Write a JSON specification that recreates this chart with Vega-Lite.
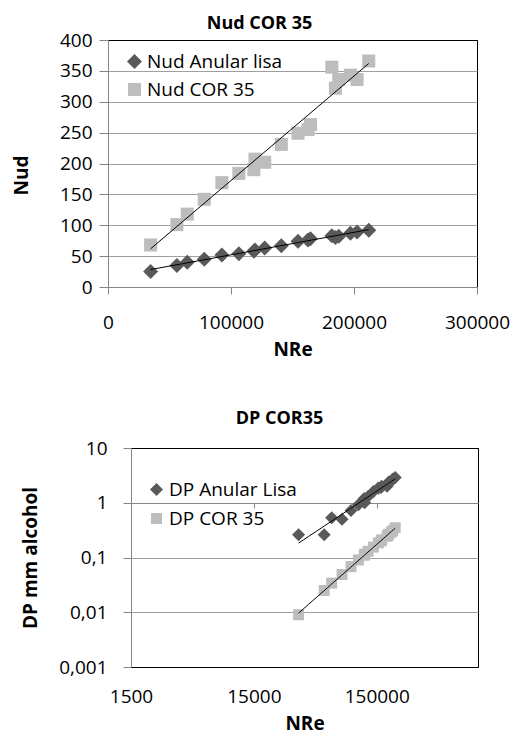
{
  "$schema": "https://vega.github.io/schema/vega-lite/v6.json",
  "background": "white",
  "padding": {"left": 11, "top": 14, "right": 5, "bottom": 0},
  "spacing": 49,
  "config": {
    "font": "Open Sans",
    "view": {"stroke": "black", "strokeWidth": 1},
    "axis": {"labelColor": "black", "titleColor": "black", "labelFont": "Open Sans", "titleFont": "Open Sans", "domainColor": "#868686", "tickColor": "#868686", "labelFlush": false, "labelOverlap": false}
  },
  "resolve": {"scale": {"color": "independent", "shape": "independent", "size": "independent"}, "legend": {"color": "independent", "shape": "independent"}},
  "vconcat": [
    {
      "width": 369,
      "height": 247,
      "title": {"text": "Nud COR 35", "fontSize": 18, "fontWeight": "bold", "font": "Open Sans", "color": "black", "anchor": "middle", "frame": "group", "baseline": "alphabetic", "offset": -16, "dx": -33},
      "data": {"values": [
        {"series": "Nud Anular lisa", "NRe": 34657, "Nud": 25},
        {"series": "Nud Anular lisa", "NRe": 56000, "Nud": 35},
        {"series": "Nud Anular lisa", "NRe": 64440, "Nud": 40},
        {"series": "Nud Anular lisa", "NRe": 78250, "Nud": 45},
        {"series": "Nud Anular lisa", "NRe": 92600, "Nud": 52},
        {"series": "Nud Anular lisa", "NRe": 106400, "Nud": 54},
        {"series": "Nud Anular lisa", "NRe": 118600, "Nud": 58},
        {"series": "Nud Anular lisa", "NRe": 119500, "Nud": 60},
        {"series": "Nud Anular lisa", "NRe": 127400, "Nud": 63},
        {"series": "Nud Anular lisa", "NRe": 140900, "Nud": 67},
        {"series": "Nud Anular lisa", "NRe": 154500, "Nud": 74},
        {"series": "Nud Anular lisa", "NRe": 162600, "Nud": 76},
        {"series": "Nud Anular lisa", "NRe": 164600, "Nud": 78},
        {"series": "Nud Anular lisa", "NRe": 182000, "Nud": 83},
        {"series": "Nud Anular lisa", "NRe": 184900, "Nud": 80},
        {"series": "Nud Anular lisa", "NRe": 187600, "Nud": 82},
        {"series": "Nud Anular lisa", "NRe": 197100, "Nud": 87},
        {"series": "Nud Anular lisa", "NRe": 202500, "Nud": 89},
        {"series": "Nud Anular lisa", "NRe": 212000, "Nud": 92},
        {"series": "Nud COR 35", "NRe": 34657, "Nud": 68},
        {"series": "Nud COR 35", "NRe": 56000, "Nud": 101},
        {"series": "Nud COR 35", "NRe": 64440, "Nud": 118},
        {"series": "Nud COR 35", "NRe": 78250, "Nud": 142},
        {"series": "Nud COR 35", "NRe": 92600, "Nud": 169},
        {"series": "Nud COR 35", "NRe": 106400, "Nud": 184},
        {"series": "Nud COR 35", "NRe": 118600, "Nud": 190},
        {"series": "Nud COR 35", "NRe": 119500, "Nud": 207},
        {"series": "Nud COR 35", "NRe": 127400, "Nud": 202},
        {"series": "Nud COR 35", "NRe": 140900, "Nud": 231},
        {"series": "Nud COR 35", "NRe": 154500, "Nud": 249},
        {"series": "Nud COR 35", "NRe": 162600, "Nud": 255},
        {"series": "Nud COR 35", "NRe": 164600, "Nud": 263},
        {"series": "Nud COR 35", "NRe": 182000, "Nud": 356},
        {"series": "Nud COR 35", "NRe": 184900, "Nud": 322},
        {"series": "Nud COR 35", "NRe": 187600, "Nud": 336},
        {"series": "Nud COR 35", "NRe": 197100, "Nud": 343},
        {"series": "Nud COR 35", "NRe": 202500, "Nud": 336},
        {"series": "Nud COR 35", "NRe": 212000, "Nud": 366}
      ]},
      "encoding": {
        "x": {"field": "NRe", "type": "quantitative", "scale": {"domain": [0, 300000], "nice": false, "zero": false},
          "axis": {"values": [0, 100000, 200000, 300000], "format": "d", "title": "NRe", "titleFontSize": 19, "titleFontWeight": "bold", "titlePadding": 8, "labelFontSize": 19, "labelPadding": 19, "tickSize": 7, "grid": false}},
        "y": {"field": "Nud", "type": "quantitative", "scale": {"domain": [0, 400], "nice": false},
          "axis": {"values": [0, 50, 100, 150, 200, 250, 300, 350, 400], "tickCount": 9, "title": "Nud", "titleFontSize": 19, "titleFontWeight": "bold", "titlePadding": 18, "titleY": 135, "labelFontSize": 19, "labelPadding": 7, "tickSize": 9, "minExtent": 59, "maxExtent": 59, "grid": true,
            "gridColor": {"condition": {"test": "datum.value >= 400", "value": "black"}, "value": "#a0a0a0"}}}
      },
      "layer": [
        {
          "mark": {"type": "point", "filled": true, "opacity": 1, "strokeWidth": 0},
          "encoding": {
            "color": {"field": "series", "type": "nominal", "scale": {"domain": ["Nud Anular lisa", "Nud COR 35"], "range": ["#595959", "#bdbdbd"]},
              "legend": {"orient": "none", "legendX": 17, "legendY": 12, "title": null, "labelFontSize": 19, "labelFont": "Open Sans", "labelColor": "black", "symbolSize": 100, "labelOffset": 3, "rowPadding": 8, "padding": 0, "symbolStrokeWidth": 0, "symbolOpacity": 1}},
            "shape": {"field": "series", "type": "nominal", "scale": {"domain": ["Nud Anular lisa", "Nud COR 35"], "range": ["diamond", "square"]}},
            "size": {"field": "series", "type": "nominal", "scale": {"domain": ["Nud Anular lisa", "Nud COR 35"], "range": [225, 170]}, "legend": null}
          }
        },
        {
          "transform": [{"regression": "Nud", "on": "NRe", "groupby": ["series"]}],
          "mark": {"type": "line", "color": "black", "strokeWidth": 1},
          "encoding": {
            "detail": {"field": "series", "type": "nominal"}
          }
        }
      ]
    },
    {
      "spacing": 22,
      "bounds": "flush",
      "hconcat": [
        {
          "width": 1,
          "height": 219,
          "view": {"stroke": null},
          "data": {"values": [{"a": 1}]},
          "mark": {"type": "point", "opacity": 0},
          "encoding": {}
        },
        {
          "width": 347,
          "height": 219,
          "title": {"text": "DP COR35", "fontSize": 18, "fontWeight": "bold", "font": "Open Sans", "color": "black", "anchor": "middle", "frame": "group", "baseline": "alphabetic", "offset": -3, "dx": -25},
          "data": {"values": [
            {"series": "DP Anular Lisa", "NRe": 34657, "DP": 0.26},
            {"series": "DP Anular Lisa", "NRe": 56000, "DP": 0.26},
            {"series": "DP Anular Lisa", "NRe": 64440, "DP": 0.53},
            {"series": "DP Anular Lisa", "NRe": 78250, "DP": 0.5},
            {"series": "DP Anular Lisa", "NRe": 92600, "DP": 0.72},
            {"series": "DP Anular Lisa", "NRe": 106400, "DP": 0.92},
            {"series": "DP Anular Lisa", "NRe": 118600, "DP": 1.2},
            {"series": "DP Anular Lisa", "NRe": 119500, "DP": 1.0},
            {"series": "DP Anular Lisa", "NRe": 127400, "DP": 1.3},
            {"series": "DP Anular Lisa", "NRe": 140900, "DP": 1.6},
            {"series": "DP Anular Lisa", "NRe": 154500, "DP": 1.85},
            {"series": "DP Anular Lisa", "NRe": 162600, "DP": 1.9},
            {"series": "DP Anular Lisa", "NRe": 164600, "DP": 2.0},
            {"series": "DP Anular Lisa", "NRe": 182000, "DP": 2.0},
            {"series": "DP Anular Lisa", "NRe": 184900, "DP": 2.2},
            {"series": "DP Anular Lisa", "NRe": 187600, "DP": 2.4},
            {"series": "DP Anular Lisa", "NRe": 197100, "DP": 2.5},
            {"series": "DP Anular Lisa", "NRe": 202500, "DP": 2.7},
            {"series": "DP Anular Lisa", "NRe": 212000, "DP": 2.9},
            {"series": "DP COR 35", "NRe": 34657, "DP": 0.009},
            {"series": "DP COR 35", "NRe": 56000, "DP": 0.025},
            {"series": "DP COR 35", "NRe": 64440, "DP": 0.034},
            {"series": "DP COR 35", "NRe": 78250, "DP": 0.049},
            {"series": "DP COR 35", "NRe": 92600, "DP": 0.068},
            {"series": "DP COR 35", "NRe": 106400, "DP": 0.09},
            {"series": "DP COR 35", "NRe": 118600, "DP": 0.11},
            {"series": "DP COR 35", "NRe": 119500, "DP": 0.115},
            {"series": "DP COR 35", "NRe": 127400, "DP": 0.13},
            {"series": "DP COR 35", "NRe": 140900, "DP": 0.155},
            {"series": "DP COR 35", "NRe": 154500, "DP": 0.185},
            {"series": "DP COR 35", "NRe": 162600, "DP": 0.2},
            {"series": "DP COR 35", "NRe": 164600, "DP": 0.21},
            {"series": "DP COR 35", "NRe": 182000, "DP": 0.245},
            {"series": "DP COR 35", "NRe": 184900, "DP": 0.255},
            {"series": "DP COR 35", "NRe": 187600, "DP": 0.265},
            {"series": "DP COR 35", "NRe": 197100, "DP": 0.29},
            {"series": "DP COR 35", "NRe": 202500, "DP": 0.31},
            {"series": "DP COR 35", "NRe": 212000, "DP": 0.35}
          ]},
          "encoding": {
            "x": {"field": "NRe", "type": "quantitative", "scale": {"type": "log", "domain": [1500, 1000000], "nice": false},
              "axis": {"values": [1500, 15000, 150000], "format": "d", "title": "NRe", "titleFontSize": 19, "titleFontWeight": "bold", "titlePadding": 11, "labelFontSize": 19, "labelPadding": 179, "tickSize": 5, "offset": -164, "grid": false}},
            "y": {"field": "DP", "type": "quantitative", "scale": {"type": "log", "domain": [0.001, 10], "nice": false},
              "axis": {"values": [0.001, 0.01, 0.1, 1, 10], "labelExpr": "replace(toString(datum.value), '.', ',')", "title": "DP  mm alcohol", "titleFontSize": 19, "titleFontWeight": "bold", "titlePadding": 14, "labelFontSize": 19, "labelPadding": 16, "tickSize": 8, "minExtent": 77, "maxExtent": 77, "grid": true,
                "gridColor": {"condition": {"test": "datum.value >= 10 || datum.value <= 0.001", "value": "black"}, "value": "#a0a0a0"}}}
          },
          "layer": [
            {
              "mark": {"type": "point", "filled": true, "opacity": 1, "strokeWidth": 0},
              "encoding": {
                "color": {"field": "series", "type": "nominal", "scale": {"domain": ["DP Anular Lisa", "DP COR 35"], "range": ["#595959", "#bdbdbd"]},
                  "legend": {"orient": "none", "legendX": 39, "legendY": 32, "title": null, "labelFontSize": 19, "labelFont": "Open Sans", "labelColor": "black", "symbolSize": 80, "labelOffset": 3, "rowPadding": 9, "padding": 0, "symbolStrokeWidth": 0, "symbolOpacity": 1}},
                "shape": {"field": "series", "type": "nominal", "scale": {"domain": ["DP Anular Lisa", "DP COR 35"], "range": ["diamond", "square"]}},
                "size": {"field": "series", "type": "nominal", "scale": {"domain": ["DP Anular Lisa", "DP COR 35"], "range": [170, 120]}, "legend": null}
              }
            },
            {
              "transform": [{"regression": "DP", "on": "NRe", "groupby": ["series"], "method": "pow"}],
              "mark": {"type": "line", "color": "black", "strokeWidth": 1},
              "encoding": {
                "detail": {"field": "series", "type": "nominal"}
              }
            }
          ]
        }
      ]
    }
  ]
}
